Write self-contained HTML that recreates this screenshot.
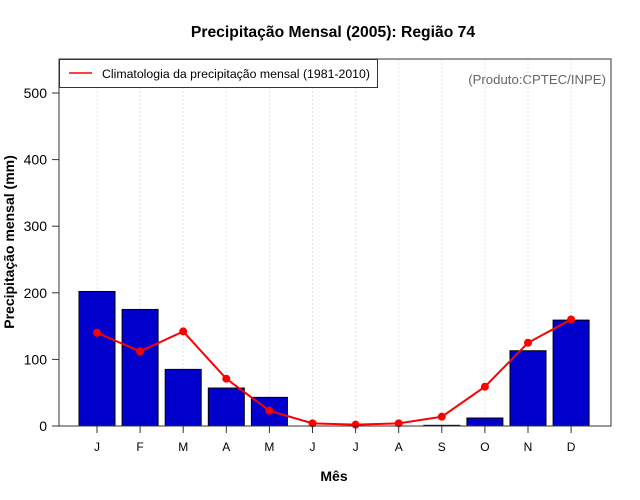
<!DOCTYPE html>
<html><head><meta charset="utf-8"><style>
body{margin:0;background:#fff;}
svg{display:block;font-family:"Liberation Sans",sans-serif;}
</style></head><body>
<svg id="chart" width="640" height="500">
<text x="333" y="37" text-anchor="middle" font-size="15.7" font-weight="bold">Precipitação Mensal (2005): Região 74</text>
<text x="334" y="481" text-anchor="middle" font-size="14" font-weight="bold">Mês</text>
<text transform="translate(14,242) rotate(-90)" text-anchor="middle" font-size="14" font-weight="bold">Precipitação mensal (mm)</text>
<text x="606" y="84" text-anchor="end" font-size="13.2" fill="#666">(Produto:CPTEC/INPE)</text>
<g id="grid"></g><g id="bars"></g><g id="line"></g><g id="axes"></g>
<rect x="59" y="59" width="552" height="367" fill="none" stroke="#333" stroke-width="1"/>
<g>
<rect x="59.5" y="59.5" width="318" height="28" fill="#fff" stroke="#333"/>
<line x1="69" y1="73" x2="92" y2="73" stroke="red" stroke-width="1.5"/>
<text x="102" y="78" font-size="12.3">Climatologia da precipitação mensal (1981-2010)</text>
</g>
</svg>
<script>
const months=["J","F","M","A","M","J","J","A","S","O","N","D"];
const precip=[202,175,85,57,43,0,0,0,1,12,113,159];
const climatology=[140,112,142,71,23,4,2,4,14,59,125,160];
const yTicks=[0,100,200,300,400,500];
const NS="http://www.w3.org/2000/svg";
const X=i=>97+i*43.1;
const Y=v=>426-v*0.666;
function mk(t,a,p){const e=document.createElementNS(NS,t);for(const k in a)e.setAttribute(k,a[k]);p.appendChild(e);return e;}
const grid=document.getElementById('grid'),bars=document.getElementById('bars'),line=document.getElementById('line'),axes=document.getElementById('axes');
months.forEach((m,i)=>{
 const g=mk('line',{x1:X(i),x2:X(i),y1:59,y2:426,stroke:'#e4e4e4','stroke-dasharray':'2,2'},grid);
 
 
 const b=mk('rect',{x:X(i)-18,y:Y(precip[i]),width:36,height:426-Y(precip[i]),fill:'#0000cd',stroke:'#000','stroke-width':1},bars);
 
 
 const t=mk('line',{x1:X(i),x2:X(i),y1:426,y2:433,stroke:'#333'},axes);
 
 
 const l=mk('text',{x:X(i),y:451,'text-anchor':'middle','font-size':12},axes);l.textContent=m;
 
 
});
const pl=mk('polyline',{points:climatology.map((v,i)=>X(i)+','+Y(v)).join(' '),fill:'none',stroke:'red','stroke-width':2},line);


climatology.forEach((v,i)=>{const c=mk('circle',{cx:X(i),cy:Y(v),r:4,fill:'red'},line);
 
 });
yTicks.forEach(v=>{
 const t=mk('line',{x1:52,x2:59,y1:Y(v),y2:Y(v),stroke:'#333'},axes);
 
 
 const l=mk('text',{x:47,y:Y(v)+5,'text-anchor':'end','font-size':14},axes);l.textContent=v;
 
 
});
</script>
</body></html>
